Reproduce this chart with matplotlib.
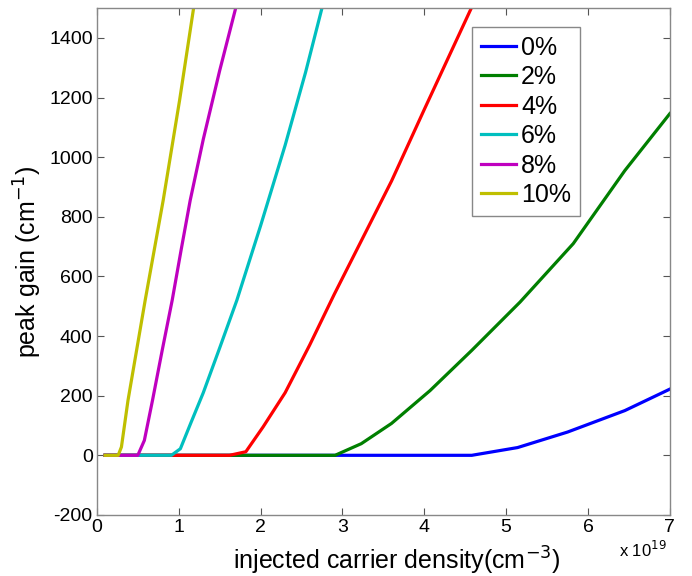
import matplotlib
matplotlib.use("Agg")
import matplotlib.pyplot as plt

plt.rcParams['font.family'] = ['Liberation Sans', 'DejaVu Sans']
plt.rcParams['axes.unicode_minus'] = False

labels = ['0%', '2%', '4%', '6%', '8%', '10%']
colors = ['#0000ff', '#007f00', '#ff0000', '#00bfbf', '#bf00bf', '#bfbf00']

x_0 = [0.1, 4.58, 5.14, 5.75, 6.45, 7.0]
g_0 = [0, 0, 26, 78, 150, 222]

x_2 = [0.1, 2.91, 3.23, 3.6, 4.07, 4.58, 5.17, 5.82, 6.45, 7.0]
g_2 = [0, 0, 39, 107, 217, 352, 514, 710, 955, 1146]

x_4 = [0.1, 1.62, 1.82, 2.03, 2.3, 2.6, 2.9, 3.25, 3.6, 4.0, 4.6]
g_4 = [0, 0, 12, 95, 210, 370, 540, 730, 920, 1160, 1515]

x_6 = [0.1, 0.91, 1.02, 1.15, 1.3, 1.5, 1.71, 2.0, 2.3, 2.55, 2.75]
g_6 = [0, 0, 22, 110, 210, 360, 520, 770, 1040, 1285, 1500]

x_8 = [0.1, 0.5, 0.58, 0.68, 0.8, 0.92, 1.03, 1.14, 1.3, 1.5, 1.71]
g_8 = [0, 0, 50, 185, 355, 520, 690, 855, 1060, 1290, 1515]

x_10 = [0.1, 0.26, 0.3, 0.38, 0.59, 0.81, 1.01, 1.19]
g_10 = [0, 0, 28, 184, 520, 855, 1190, 1515]

xs = [x_0, x_2, x_4, x_6, x_8, x_10]
gs = [g_0, g_2, g_4, g_6, g_8, g_10]

fig = plt.figure(figsize=(6.92, 5.76), dpi=100)
ax = fig.add_axes([0.140, 0.106, 0.828, 0.880])

for x, g, c, l in zip(xs, gs, colors, labels):
    ax.plot(x, g, color=c, lw=2.3, label=l)

ax.set_xlim(0, 7)
ax.set_ylim(-200, 1500)
ax.set_xticks(range(0, 8))
ax.set_yticks(range(-200, 1401, 200))
ax.tick_params(direction='in', top=True, right=True, labelsize=14,
               length=5, width=0.8, color='#555555', pad=3)
for s in ax.spines.values():
    s.set_color('#888888')
    s.set_linewidth(1.0)

ax.set_xlabel(r'injected carrier density(cm$^{-3}$)', fontsize=18, labelpad=4)
ax.xaxis.set_label_coords(0.523, -0.058)
ax.xaxis.label.set_va('top')
ax.set_ylabel(r'peak gain (cm$^{-1}$)', fontsize=18, labelpad=4)
ax.text(0.995, -0.05, r'x 10$^{19}$', transform=ax.transAxes, ha='right',
        va='top', fontsize=12)

leg = ax.legend(loc='upper right', bbox_to_anchor=(0.843, 0.963), fontsize=18,
                handlelength=1.4, handletextpad=0.2, borderpad=0.35,
                labelspacing=0.22, fancybox=False, framealpha=1,
                edgecolor='#888888', borderaxespad=0)
leg.get_frame().set_linewidth(1.0)

fig.savefig('out.png', dpi=100)
